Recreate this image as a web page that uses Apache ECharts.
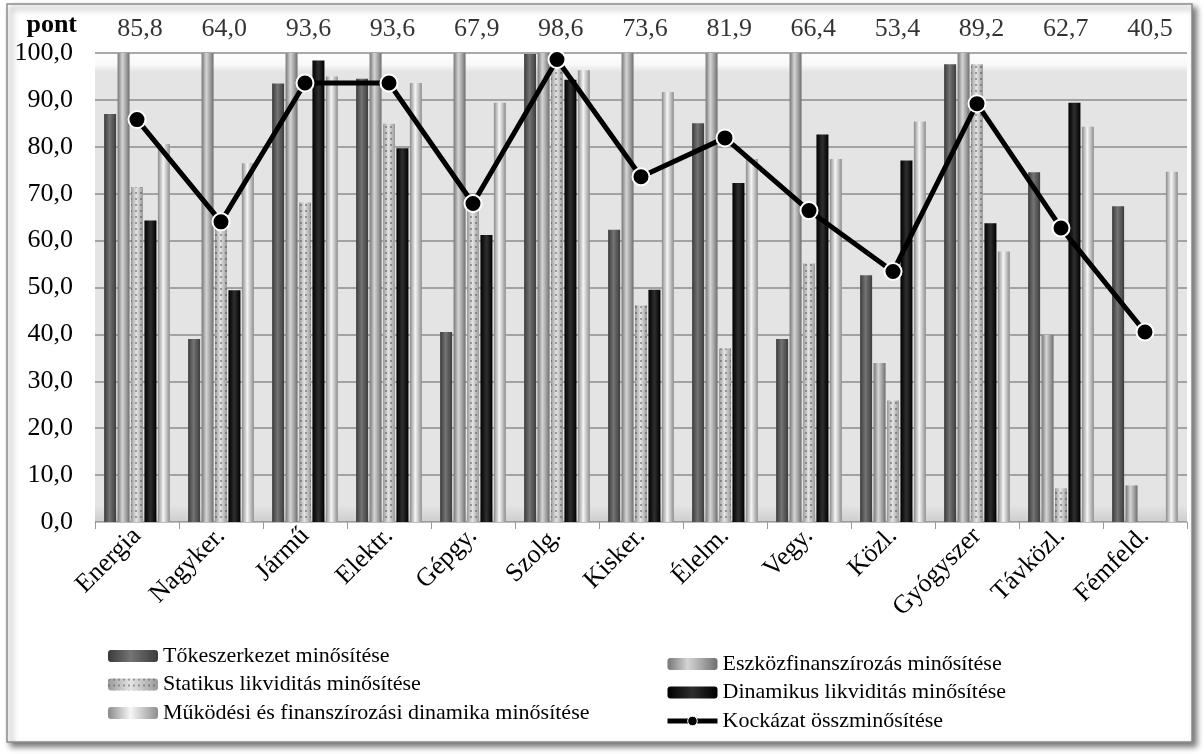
<!DOCTYPE html>
<html>
<head>
<meta charset="utf-8">
<script src="https://cdn.jsdelivr.net/npm/echarts@6/dist/echarts.min.js"></script>
<style>
  html, body { margin: 0; padding: 0; background: #ffffff; }
  #chart { width: 1204px; height: 754px; }
</style>
</head>
<body>
<div id="chart"></div>
<script>
// Ágazati kockázati minősítések (pont)
const categories = ['Energia', 'Nagyker.', 'Jármű', 'Elektr.', 'Gépgy.', 'Szolg.', 'Kisker.',
  'Élelm.', 'Vegy.', 'Közl.', 'Gyógyszer', 'Távközl.', 'Fémfeld.'];

const tokeszerkezet   = [87.0, 39.0, 93.5, 94.5, 40.5, 99.8, 62.3, 85.0, 39.0, 52.6, 97.6, 74.6, 67.3];
const eszkozfinansz   = [100.0, 100.0, 100.0, 100.0, 100.0, 100.0, 100.0, 100.0, 100.0, 33.9, 100.0, 39.9, 7.8];
const statikusLikv    = [71.4, 63.0, 68.1, 84.9, 67.0, 98.0, 46.2, 37.0, 55.1, 25.9, 97.6, 7.2, null];
const dinamikusLikv   = [64.3, 49.4, 98.4, 79.7, 61.2, 94.3, 49.5, 72.3, 82.6, 77.1, 63.7, 89.4, null];
const mukodesiDinam   = [80.6, 76.5, 95.0, 93.6, 89.4, 96.3, 91.7, 77.4, 77.4, 85.4, 57.7, 84.3, 74.7];
const kockazatOssz    = [85.8, 64.0, 93.6, 93.6, 67.9, 98.6, 73.6, 81.9, 66.4, 53.4, 89.2, 62.7, 40.5];

const yTicks = { min: 0, max: 100, interval: 10 };

const SERIF = "'Liberation Serif', 'Times New Roman', serif";
const fmt = v => v.toFixed(1).replace('.', ',');

// horizontal gradient that gives each column a rounded, cylinder-like shading
function cyl(stops) {
  return new echarts.graphic.LinearGradient(0, 0, 1, 0,
    stops.map(([o, c]) => ({ offset: o, color: c })));
}

const styles = {
  toke: { color: cyl([[0, '#3a3a3a'], [0.45, '#747474'], [1, '#3c3c3c']]) },
  eszkoz: { color: cyl([[0, '#767676'], [0.4, '#d4d4d4'], [0.62, '#b2b2b2'], [1, '#6e6e6e']]) },
  statikus: {
    color: cyl([[0, '#9a9a9a'], [0.45, '#e4e4e4'], [1, '#9a9a9a']]),
    decal: { symbol: 'rect', symbolSize: 1, color: 'rgba(70,70,70,0.45)',
      dashArrayX: [2, 3], dashArrayY: [2, 4], rotation: 0 }
  },
  dinamikus: { color: cyl([[0, '#000000'], [0.5, '#2e2e2e'], [1, '#000000']]) },
  mukodesi: { color: cyl([[0, '#8a8a8a'], [0.45, '#f6f6f6'], [1, '#8e8e8e']]) }
};

const barCommon = { type: 'bar', barWidth: 12, barGap: '12%', barCategoryGap: '20%' };

const legendText = { fontSize: 22, color: '#000', fontFamily: SERIF };

const chart = echarts.init(document.getElementById('chart'), null, { renderer: 'canvas' });

chart.setOption({
  animation: false,
  backgroundColor: 'transparent',
  textStyle: { fontFamily: SERIF, color: '#000' },
  graphic: [{
    type: 'rect', z: -100, silent: true,
    shape: { x: 7, y: 4, width: 1185, height: 738 },
    style: { fill: '#ffffff', stroke: '#8a8a8a', lineWidth: 1.5,
      shadowBlur: 6, shadowOffsetX: 4, shadowOffsetY: 4, shadowColor: 'rgba(0,0,0,0.55)' }
  }],
  grid: [
    {
      left: 95, right: 17, top: 53, bottom: 232,
      outerBoundsMode: 'none',
      show: true, borderWidth: 0,
      backgroundColor: new echarts.graphic.LinearGradient(0, 0, 0, 1, [
        { offset: 0, color: '#ffffff' },
        { offset: 0.025, color: '#f8f8f8' },
        { offset: 0.04, color: '#e4e4e4' },
        { offset: 0.965, color: '#e4e4e4' },
        { offset: 1, color: '#cdcdcd' }
      ])
    },
    // header row of total scores, one per sector column
    { left: 98, right: 12, top: 28, height: 2, outerBoundsMode: 'none' }
  ],
  xAxis: [
    {
      type: 'category', gridIndex: 0, data: categories,
      axisLine: { show: true, lineStyle: { color: '#bdbdbd', width: 1 } },
      axisTick: { show: true, length: 7, lineStyle: { color: '#9a9a9a' } },
      axisLabel: { rotate: 45, fontSize: 26, margin: 10, color: '#000', fontFamily: SERIF }
    },
    {
      type: 'category', gridIndex: 1, data: categories, show: false
    }
  ],
  yAxis: [
    {
      type: 'value', gridIndex: 0, min: yTicks.min, max: yTicks.max, interval: yTicks.interval,
      name: 'pont', nameLocation: 'end', nameGap: 15,
      nameTextStyle: { fontSize: 26, fontWeight: 'bold', color: '#000', fontFamily: SERIF,
        align: 'right', padding: [0, 18, 0, 0] },
      axisLine: { show: false }, axisTick: { show: false },
      axisLabel: { fontSize: 26, margin: 22, color: '#000', fontFamily: SERIF, formatter: v => fmt(v) },
      splitLine: { show: true, lineStyle: { color: '#8c8c8c', width: 1.5 } }
    },
    { type: 'value', gridIndex: 1, min: -1, max: 1, show: false }
  ],
  legend: [
    {
      left: 103, top: 640, orient: 'vertical', itemWidth: 50, itemHeight: 12, itemGap: 6.5,
      textStyle: legendText,
      data: ['Tőkeszerkezet minősítése', 'Statikus likviditás minősítése',
        'Működési és finanszírozási dinamika minősítése']
    },
    {
      left: 660, top: 648, orient: 'vertical', itemWidth: 50, itemHeight: 12, itemGap: 6.5,
      textStyle: legendText,
      data: ['Eszközfinanszírozás minősítése', 'Dinamikus likviditás minősítése',
        { name: 'Kockázat összminősítése', lineStyle: { width: 5, color: '#000' },
          itemStyle: { color: '#000', borderColor: '#fff', borderWidth: 1 } }]
    }
  ],
  series: [
    Object.assign({}, barCommon, { name: 'Tőkeszerkezet minősítése', data: tokeszerkezet, itemStyle: styles.toke }),
    Object.assign({}, barCommon, { name: 'Eszközfinanszírozás minősítése', data: eszkozfinansz, itemStyle: styles.eszkoz }),
    Object.assign({}, barCommon, { name: 'Statikus likviditás minősítése', data: statikusLikv, itemStyle: styles.statikus }),
    Object.assign({}, barCommon, { name: 'Dinamikus likviditás minősítése', data: dinamikusLikv, itemStyle: styles.dinamikus }),
    Object.assign({}, barCommon, { name: 'Működési és finanszírozási dinamika minősítése', data: mukodesiDinam, itemStyle: styles.mukodesi }),
    {
      name: 'Kockázat összminősítése', type: 'line', data: kockazatOssz, z: 10,
      symbol: 'circle', symbolSize: 17,
      lineStyle: { color: '#000', width: 5 },
      itemStyle: { color: '#000', borderColor: '#ffffff', borderWidth: 2 }
    },
    {
      // total score printed once per sector in the header row
      name: 'pontszám', type: 'scatter', xAxisIndex: 1, yAxisIndex: 1,
      symbolSize: 0, silent: true,
      data: kockazatOssz.map((v, i) => [i, 0, v]),
      label: {
        show: true, position: 'inside', fontSize: 26, color: '#000', fontFamily: SERIF,
        formatter: p => fmt(p.value[2])
      }
    }
  ]
});
</script>
</body>
</html>
